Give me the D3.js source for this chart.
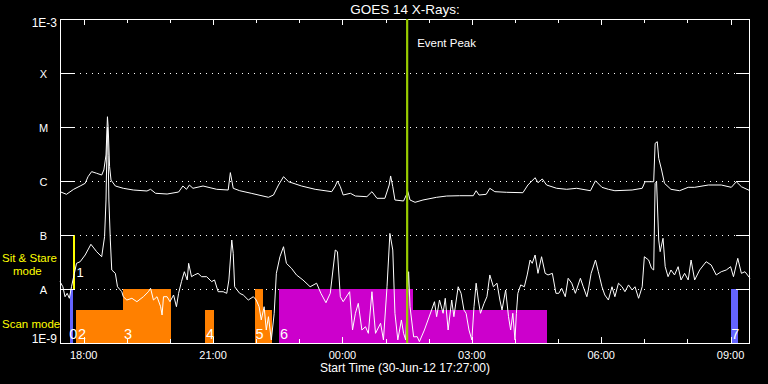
<!DOCTYPE html>
<html><head><meta charset="utf-8">
<script src="https://cdn.jsdelivr.net/npm/d3@7"></script>
<style>
html,body{margin:0;padding:0;background:#000;}
svg{display:block;}
text{font-family:"Liberation Sans",Arial,sans-serif;}
</style></head>
<body>
<svg id="chart" width="768" height="384"></svg>
<script>
// ---------------- DATA ----------------
const title = "GOES 14 X-Rays:";
const startLabel = "Start Time (30-Jun-12 17:27:00)";
const startUTC = Date.UTC(2012, 5, 30, 17, 27, 0);
const spanMinutes = 960;
const eventPeakMinute = 483;

const yTickValues = [1e-9, 1e-8, 1e-7, 1e-6, 1e-5, 1e-4, 1e-3];
const yTickLabels = ["1E-9", "A", "B", "C", "M", "X", "1E-3"];

// long channel (1-8 A), minutes after start / W m^-2
const longMin = [0,9,19,28,35,39,44,51,58,61,64,66,67,69,71,77,88,102,121,126,133,149,165,171,176,180,185,199,218,234,237,241,250,266,290,297,304,311,318,336,355,378,383,386,390,394,404,411,427,434,441,452,458,460,463,466,478,484,487,494,505,524,538,556,575,579,583,593,598,605,621,644,651,661,665,671,677,691,705,719,738,745,754,763,772,796,810,814,826,828,831,833,837,841,850,862,874,883,902,920,934,941,948,960];
const longFlux = [6.34e-7,5.67e-7,7.02e-7,8.08e-7,9.06e-7,1.20e-6,1.49e-6,1.39e-6,1.29e-6,1.60e-6,3.03e-6,1.55e-5,1.01e-5,1.84e-6,1.04e-6,8.08e-7,7.33e-7,6.81e-7,6.53e-7,7.02e-7,5.92e-7,5.74e-7,6.25e-7,8.08e-7,7.02e-7,8.43e-7,7.33e-7,8.08e-7,7.02e-7,6.81e-7,1.43e-6,7.33e-7,6.61e-7,5.92e-7,4.99e-7,5.50e-7,8.43e-7,1.20e-6,9.70e-7,8.08e-7,7.02e-7,6.34e-7,8.08e-7,1.00e-6,7.84e-7,5.50e-7,5.92e-7,5.27e-7,5.12e-7,6.34e-7,4.78e-7,4.78e-7,8.43e-7,1.24e-6,7.84e-7,4.45e-7,4.26e-7,6.34e-7,4.45e-7,4.03e-7,4.45e-7,4.99e-7,5.27e-7,5.34e-7,5.34e-7,6.61e-7,5.50e-7,5.67e-7,7.33e-7,6.34e-7,6.18e-7,6.07e-7,8.43e-7,1.15e-6,9.30e-7,1.09e-6,8.43e-7,7.33e-7,7.02e-7,7.33e-7,6.61e-7,1.01e-6,7.64e-7,7.02e-7,6.61e-7,6.81e-7,7.33e-7,9.70e-7,9.70e-7,4.99e-6,5.34e-6,2.63e-6,1.60e-6,9.06e-7,7.02e-7,6.61e-7,7.64e-7,7.64e-7,8.43e-7,8.43e-7,7.64e-7,9.70e-7,7.84e-7,6.61e-7];

// short channel (0.5-4 A)
const shortMin = [0,4,7,10,13,16,20,23,28,35,43,51,58,62,64,65,66,67,68,70,72,77,80,86,88,93,100,107,116,123,126,130,135,140,142,144,149,153,158,162,165,169,173,177,179,183,187,192,197,204,211,215,220,227,232,235,239,241,243,250,255,262,269,273,277,280,284,287,290,294,298,301,306,311,315,322,329,338,348,357,363,370,376,383,386,390,394,403,407,411,415,420,425,429,434,439,446,450,455,459,463,466,470,475,478,481,485,487,492,497,500,507,512,517,521,524,528,533,536,540,545,548,554,558,562,565,569,573,576,579,582,585,590,594,598,603,608,612,615,620,624,627,630,633,635,637,641,646,650,654,657,661,665,670,675,679,685,690,694,698,703,707,712,717,724,728,733,735,739,745,749,754,758,763,768,772,777,782,786,791,796,800,805,810,813,819,823,826,828,830,833,835,839,842,846,850,855,860,864,869,874,878,883,890,899,906,913,920,927,933,937,943,948,953,960];
const shortFlux = [1.37e-8,1.10e-8,7.20e-9,8.32e-9,6.73e-9,1.10e-8,1.95e-8,2.99e-8,3.20e-8,4.26e-8,6.73e-8,4.91e-8,3.96e-8,9.30e-8,4.45e-7,2.45e-6,1.00e-5,3.00e-6,4.45e-7,8.07e-8,2.25e-8,1.95e-8,1.10e-8,8.91e-9,7.20e-9,6.25e-9,6.73e-9,5.82e-9,7.20e-9,8.91e-9,1.03e-8,6.25e-9,7.20e-9,4.70e-9,3.30e-9,7.20e-9,7.20e-9,5.82e-9,7.74e-9,4.70e-9,8.32e-9,1.37e-8,2.09e-8,1.47e-8,2.99e-8,1.69e-8,1.82e-8,1.95e-8,1.69e-8,1.69e-8,1.37e-8,1.47e-8,8.91e-9,8.91e-9,8.32e-9,1.47e-8,8.07e-8,4.58e-8,1.10e-8,8.32e-9,7.74e-9,6.25e-9,7.20e-9,6.25e-9,4.70e-9,2.67e-9,4.70e-9,1.74e-9,3.07e-9,1.14e-9,3.55e-9,1.95e-8,3.96e-8,6.07e-8,2.99e-8,2.42e-8,1.82e-8,1.47e-8,1.10e-8,1.28e-8,8.32e-9,5.57e-9,8.32e-9,5.27e-8,4.91e-8,7.20e-9,5.82e-9,8.91e-9,1.74e-9,3.55e-9,5.43e-9,1.74e-9,2.00e-9,1.51e-9,8.91e-9,1.51e-9,2.32e-9,1.14e-9,1.10e-8,1.07e-7,5.27e-8,3.55e-9,1.14e-9,2.67e-9,1.51e-9,1.14e-9,2.09e-8,4.70e-9,1.30e-9,1.31e-9,1.06e-9,1.74e-9,2.67e-9,4.08e-9,5.82e-9,3.07e-9,6.25e-9,3.55e-9,6.73e-9,1.74e-9,6.25e-9,3.07e-9,1.10e-8,8.32e-9,4.08e-9,3.55e-9,1.74e-9,1.14e-9,4.70e-9,1.28e-8,6.25e-9,3.55e-9,5.43e-9,7.20e-9,1.82e-8,1.10e-8,1.28e-8,6.25e-9,4.08e-9,9.58e-9,3.07e-9,1.74e-9,3.55e-9,1.14e-9,3.55e-9,8.32e-9,1.19e-8,1.10e-8,1.82e-8,3.44e-8,2.99e-8,4.26e-8,1.95e-8,3.96e-8,1.95e-8,1.82e-8,1.95e-8,8.32e-9,8.32e-9,1.03e-8,7.20e-9,1.58e-8,1.28e-8,8.32e-9,1.58e-8,1.10e-8,7.20e-9,9.58e-9,1.95e-8,3.44e-8,2.09e-8,1.10e-8,7.74e-9,6.25e-9,1.10e-8,7.20e-9,1.28e-8,1.10e-8,8.91e-9,1.19e-8,9.58e-9,1.10e-8,6.73e-9,1.10e-8,3.96e-8,3.44e-8,2.42e-8,2.25e-8,9.06e-7,9.70e-7,8.07e-8,4.91e-8,8.69e-8,2.59e-8,1.69e-8,2.25e-8,1.82e-8,2.59e-8,1.47e-8,1.95e-8,1.47e-8,3.44e-8,1.47e-8,2.25e-8,3.20e-8,2.78e-8,1.82e-8,2.09e-8,2.25e-8,2.59e-8,1.69e-8,3.70e-8,1.95e-8,2.09e-8,1.58e-8];

// observation blocks (minutes after start)
const segStart = [14, 18, 22, 88, 202, 271, 283, 305, 491, 933];
const segEnd   = [18, 21, 88, 154, 214, 283, 295, 491, 677, 943];
const segLow   = [1e-9, 1e-8, 1e-9, 1e-9, 1e-9, 1e-9, 1e-9, 1e-9, 1e-9, 1e-9];
const segHigh  = [1e-8, 1e-7, 4.1e-9, 1e-8, 4.1e-9, 1e-8, 4.1e-9, 1e-8, 4.1e-9, 1e-8];
const segColor = ["#6464ff", "#ffff00", "#ff8000", "#ff8000", "#ff8000", "#ff8000", "#ff8000", "#cc00cc", "#cc00cc", "#6464ff"];

const obsLabel  = ["0", "1", "2", "3", "4", "5", "6", "7"];
const obsLabelMin = [13, 23, 25, 89, 203, 272, 306, 934];
const obsLabelRow = ["scan", "sit", "scan", "scan", "scan", "scan", "scan", "scan"];

// ---------------- CHART ----------------
const svg = d3.select("#chart");
svg.append("rect").attr("width", 768).attr("height", 384).attr("fill", "#000");

const L = 60, R = 750, T = 19, B = 343;
const toDate = m => new Date(startUTC + m * 60000);
const x = d3.scaleUtc().domain([toDate(0), toDate(spanMinutes)]).range([L, R]);
const y = d3.scaleLog().domain([1e-9, 1e-3]).range([B, T]);

// dotted grid
svg.append("g").selectAll("line").data(yTickValues.slice(1, -1)).join("line")
  .attr("x1", L + 14).attr("x2", R - 14)
  .attr("y1", d => Math.round(y(d)) + 0.5).attr("y2", d => Math.round(y(d)) + 0.5)
  .attr("stroke", "#fff").attr("stroke-width", 1).attr("stroke-dasharray", "1,5");

// observation bars
svg.append("g").selectAll("rect").data(segStart.map((s, i) => i)).join("rect")
  .attr("x", i => x(toDate(segStart[i])))
  .attr("width", i => x(toDate(segEnd[i])) - x(toDate(segStart[i])))
  .attr("y", i => y(segHigh[i]))
  .attr("height", i => y(segLow[i]) - y(segHigh[i]))
  .attr("fill", i => segColor[i])
  .attr("shape-rendering", "crispEdges");

// frame
svg.append("rect").attr("x", L + 0.5).attr("y", T + 0.5)
  .attr("width", R - L - 1).attr("height", B - T)
  .attr("fill", "none").attr("stroke", "#fff").attr("stroke-width", 1)
  .attr("shape-rendering", "crispEdges");

// y ticks (left and right)
const yt = svg.append("g").attr("stroke", "#fff").attr("shape-rendering", "crispEdges");
yTickValues.forEach(v => {
  const yy = Math.round(y(v)) + 0.5;
  yt.append("line").attr("x1", L).attr("x2", L + 14).attr("y1", yy).attr("y2", yy);
  yt.append("line").attr("x1", R - 14).attr("x2", R).attr("y1", yy).attr("y2", yy);
});

// y tick labels
yTickValues.forEach((v, i) => {
  const lab = yTickLabels[i];
  const t = svg.append("text").attr("fill", "#fff").attr("font-size", 12).text(lab);
  if (lab.startsWith("1E")) {
    t.attr("x", 57).attr("text-anchor", "end")
     .attr("y", i === 0 ? B : T + 8);
  } else {
    t.attr("x", 43.5).attr("text-anchor", "middle").attr("font-size", 11)
     .attr("y", y(v) + 4.5);
  }
});

// x ticks
const hours = x.ticks(d3.utcHour.every(1));
const xt = svg.append("g").attr("stroke", "#fff").attr("shape-rendering", "crispEdges");
hours.forEach(h => {
  const xx = Math.round(x(h)) + 0.5;
  const major = h.getUTCHours() % 3 === 0;
  const len = major ? 6 : 4;
  xt.append("line").attr("x1", xx).attr("x2", xx).attr("y1", B).attr("y2", B - len);
  xt.append("line").attr("x1", xx).attr("x2", xx).attr("y1", T).attr("y2", T + len);
});
const fmt = d3.utcFormat("%H:%M");
svg.append("g").selectAll("text").data(hours.filter(h => h.getUTCHours() % 3 === 0)).join("text")
  .attr("x", d => x(d)).attr("y", 359).attr("text-anchor", "middle")
  .attr("fill", "#fff").attr("font-size", 11).text(d => fmt(d));

// curves
const line = d3.line().x(d => x(toDate(d[0]))).y(d => y(d[1]));
[[longMin, longFlux], [shortMin, shortFlux]].forEach(([tm, fl]) => {
  svg.append("path").datum(tm.map((m, i) => [m, fl[i]]))
    .attr("d", line).attr("fill", "none").attr("stroke", "#fff").attr("stroke-width", 1)
    .attr("stroke-linejoin", "round");
});

// event peak line
const ex = x(toDate(eventPeakMinute));
svg.append("line").attr("x1", ex).attr("x2", ex).attr("y1", T).attr("y2", B)
  .attr("stroke", "#99cc00").attr("stroke-width", 2.2);
svg.append("text").attr("x", ex + 10).attr("y", 47).attr("fill", "#fff")
  .attr("font-size", 11.5).text("Event Peak");

// observation labels
svg.append("g").selectAll("text").data(obsLabel).join("text")
  .attr("x", (d, i) => x(toDate(obsLabelMin[i])))
  .attr("y", (d, i) => obsLabelRow[i] === "sit" ? 277 : 339)
  .attr("fill", "#fff").attr("font-size", (d, i) => obsLabelRow[i] === "sit" ? 13 : 14.5).text(d => d);

// mode labels
svg.append("text").attr("x", 2).attr("y", 262).attr("fill", "#ffff00").attr("font-size", 11.5).text("Sit & Stare");
svg.append("text").attr("x", 13).attr("y", 275).attr("fill", "#ffff00").attr("font-size", 11.5).text("mode");
svg.append("text").attr("x", 2).attr("y", 328).attr("fill", "#ffff00").attr("font-size", 11.5).text("Scan mode");

// titles
svg.append("text").attr("x", 405).attr("y", 14).attr("text-anchor", "middle")
  .attr("fill", "#fff").attr("font-size", 13.5).text(title);
svg.append("text").attr("x", 405).attr("y", 372).attr("text-anchor", "middle")
  .attr("fill", "#fff").attr("font-size", 12).text(startLabel);
</script>
</body></html>
